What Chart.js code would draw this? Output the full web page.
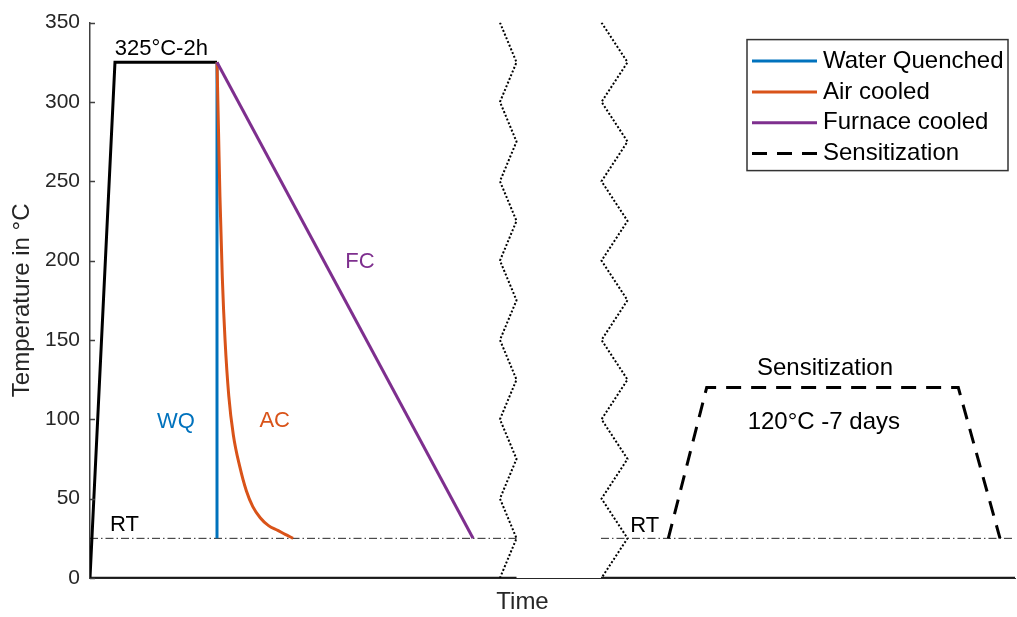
<!DOCTYPE html>
<html>
<head>
<meta charset="utf-8">
<script src="https://cdn.jsdelivr.net/npm/chart.js@4.4.1/dist/chart.umd.min.js"></script>
<style>
html,body{margin:0;padding:0;background:#fff;}
#wrap{width:1017px;height:617px;}
</style>
</head>
<body>
<div id="wrap"><canvas id="c" width="1017" height="617"></canvas></div>
<script>
// ---- Tick labels ----
const yTicks = [0, 50, 100, 150, 200, 250, 300, 350];

// ---- Series (time in arbitrary units, temperature in °C) ----
const heatTime = [0, 2.70, 13.73];
const heatTemp = [0, 325, 325];

const wqTime = [13.73, 13.73];
const wqTemp = [325, 25];

const acTime = [13.73, 13.90, 14.05, 14.30, 14.60, 15.00, 15.50, 16.20, 16.90, 17.60, 18.40, 19.30, 20.30, 21.10, 21.95];
const acTemp = [325, 280, 240, 190, 150, 115, 90, 70, 55, 45, 38, 33, 30, 27.5, 25];

const fcTime = [13.73, 41.41];
const fcTemp = [325, 25];

const sensTime = [62.52, 66.67, 93.87, 98.38];
const sensTemp = [25, 120, 120, 25];

const rtTimeA = [0, 46.11];
const rtTimeB = [55.24, 100];
const rtTemp = [25, 25];

const baseTimeA = [0, 46.11];
const baseTimeB = [55.24, 100];
const baseTemp = [0, 0];

const breakTemp  = [350, 325, 300, 275, 250, 225, 200, 175, 150, 125, 100, 75, 50, 25, 0];
const breakTimeA = [44.32, 46.11, 44.32, 46.11, 44.32, 46.11, 44.32, 46.11, 44.32, 46.11, 44.32, 46.11, 44.32, 46.11, 44.32];
const breakTimeB = [55.30, 58.11, 55.30, 58.11, 55.30, 58.11, 55.30, 58.11, 55.30, 58.11, 55.30, 58.11, 55.30, 58.11, 55.30];

// ---- Annotations (text at data coordinates) ----
const noteTexts  = ['325°C-2h', 'WQ', 'AC', 'FC', 'RT', 'RT', 'Sensitization', '120°C -7 days'];
const noteTime   = [7.71, 9.30, 19.97, 29.19, 3.73, 59.97, 79.46, 79.33];
const noteTemp   = [333.7, 98.5, 98.8, 199.1, 33.2, 33.0, 132.3, 98.0];

const legendLabels = ['Water Quenched', 'Air cooled', 'Furnace cooled', 'Sensitization'];

// ---- styles ----
const BLUE = '#0072BD', ORANGE = '#D95319', PURPLE = '#7E2F8E', INK = '#262626';
const FONT = "'Liberation Sans', Arial, Helvetica, sans-serif";
const noteColors = ['#000', BLUE, ORANGE, PURPLE, '#000', '#000', '#000', '#000'];
const noteSizes  = [22, 22, 22, 22, 22, 22, 24, 24];

const pts = (xs, ys) => xs.map((x, i) => ({x: x, y: ys[i]}));

function lineDs(label, xs, ys, color, width, dash, extra) {
  return Object.assign({
    label: label, data: pts(xs, ys), borderColor: color, backgroundColor: color,
    borderWidth: width, borderDash: dash || [], pointRadius: 0, fill: false, tension: 0
  }, extra || {});
}

const datasets = [
  lineDs('Furnace cooled', fcTime, fcTemp, PURPLE, 3),
  lineDs('Air cooled', acTime, acTemp, ORANGE, 3, null, {cubicInterpolationMode: 'monotone'}),
  lineDs('Water Quenched', wqTime, wqTemp, BLUE, 3),
  lineDs('Heating', heatTime, heatTemp, '#000', 3),
  lineDs('Sensitization', sensTime, sensTemp, '#000', 3, [15, 10]),
  lineDs('RT a', rtTimeA, rtTemp, INK, 1, [8, 3, 1.5, 3]),
  lineDs('RT b', rtTimeB, rtTemp, INK, 1, [8, 3, 1.5, 3]),
  lineDs('Break a', breakTimeA, breakTemp, '#000', 2, [2, 2]),
  lineDs('Break b', breakTimeB, breakTemp, '#000', 2, [2, 2]),
  lineDs('Base a', baseTimeA, baseTemp, '#1a1a1a', 2.5),
  lineDs('Base b', baseTimeB, baseTemp, '#1a1a1a', 2.5)
];

const inwardTicks = {
  id: 'inwardTicks',
  afterDatasetsDraw(chart) {
    const ctx = chart.ctx, y = chart.scales.y, a = chart.chartArea;
    ctx.save();
    ctx.strokeStyle = '#404040';
    ctx.lineWidth = 1.5;
    ctx.beginPath();
    yTicks.forEach(v => {
      const py = Math.round(y.getPixelForValue(v)) + 0.5;
      ctx.moveTo(a.left, py);
      ctx.lineTo(a.left + 5, py);
    });
    ctx.stroke();
    ctx.restore();
  }
};

const notes = {
  id: 'notes',
  afterDatasetsDraw(chart) {
    const ctx = chart.ctx, xs = chart.scales.x, ys = chart.scales.y;
    ctx.save();
    ctx.textAlign = 'center';
    ctx.textBaseline = 'middle';
    noteTexts.forEach((t, i) => {
      ctx.font = noteSizes[i] + 'px ' + FONT;
      ctx.fillStyle = noteColors[i];
      ctx.fillText(t, xs.getPixelForValue(noteTime[i]), ys.getPixelForValue(noteTemp[i]));
    });
    ctx.restore();
  }
};

const boxLegend = {
  id: 'boxLegend',
  afterDraw(chart) {
    const ctx = chart.ctx, a = chart.chartArea;
    const boxW = 261, boxH = 131, rowH = 30.8;
    const x0 = a.right - 7 - boxW, y0 = a.top + 17;
    ctx.save();
    ctx.fillStyle = '#fff';
    ctx.fillRect(x0, y0, boxW, boxH);
    ctx.strokeStyle = '#333';
    ctx.lineWidth = 1.5;
    ctx.strokeRect(x0, y0, boxW, boxH);
    legendLabels.forEach((lab, i) => {
      const d = chart.data.datasets.find(ds => ds.label === lab);
      const cy = y0 + 21.5 + i * rowH;
      ctx.beginPath();
      ctx.setLineDash(d.borderDash || []);
      ctx.strokeStyle = d.borderColor;
      ctx.lineWidth = d.borderWidth;
      ctx.moveTo(x0 + 5, cy);
      ctx.lineTo(x0 + 70, cy);
      ctx.stroke();
      ctx.setLineDash([]);
      ctx.fillStyle = '#000';
      ctx.font = '24px ' + FONT;
      ctx.textAlign = 'left';
      ctx.textBaseline = 'middle';
      ctx.fillText(lab, x0 + 76, cy);
    });
    ctx.restore();
  }
};

new Chart(document.getElementById('c'), {
  type: 'line',
  data: { datasets: datasets },
  options: {
    responsive: false,
    animation: false,
    layout: { padding: { top: 20, right: 2, bottom: 0, left: 0 } },
    plugins: { legend: { display: false }, tooltip: { enabled: false } },
    scales: {
      x: {
        type: 'linear', min: 0, max: 100,
        ticks: { display: false },
        grid: { display: false, drawTicks: false },
        border: { display: true, color: INK, width: 1 },
        title: { display: true, text: 'Time         ', color: INK, font: { family: FONT, size: 24 }, padding: { top: 0, bottom: 0 } },
        afterFit: s => { s.height = 39; }
      },
      y: {
        type: 'linear', min: 0, max: 350,
        afterBuildTicks: s => { s.ticks = yTicks.map(v => ({ value: v })); },
        ticks: { color: INK, font: { family: FONT, size: 21 }, padding: 10 },
        grid: { display: false, drawTicks: false },
        border: { display: true, color: '#404040', width: 1.5 },
        title: { display: true, text: 'Temperature in °C', color: INK, font: { family: FONT, size: 24 }, padding: { top: 8, bottom: 0 } },
        afterFit: s => { s.width = 90; }
      }
    }
  },
  plugins: [inwardTicks, notes, boxLegend]
});
</script>
</body>
</html>
